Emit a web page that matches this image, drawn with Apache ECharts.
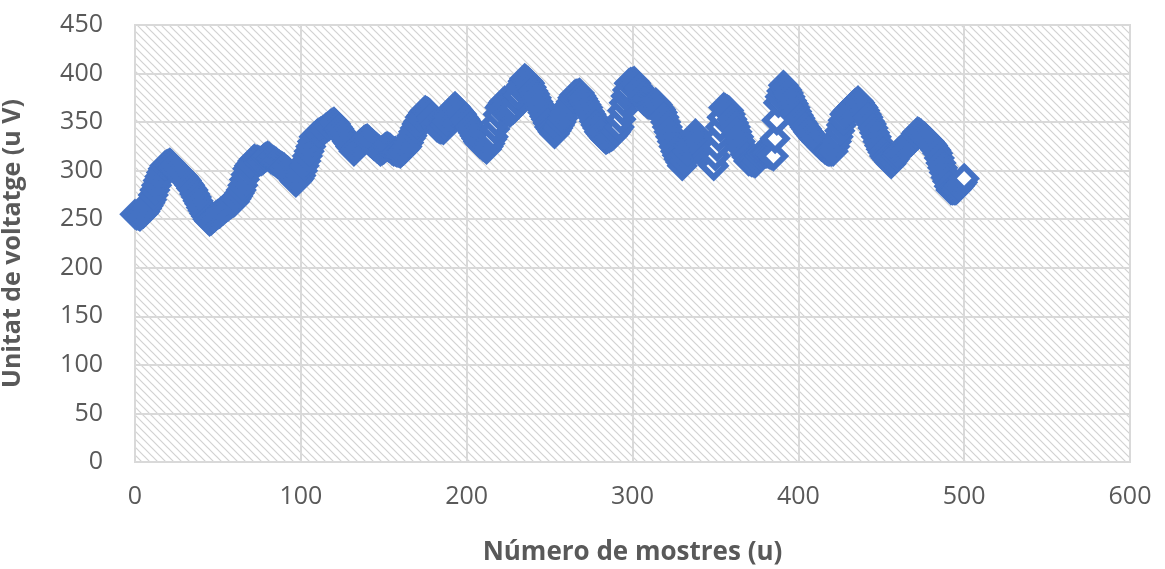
<!DOCTYPE html>
<html>
<head>
<meta charset="utf-8">
<script src="https://cdn.jsdelivr.net/npm/echarts@6/dist/echarts.min.js"></script>
<style>
  html, body { margin: 0; padding: 0; background: #ffffff; }
  #chart { width: 1165px; height: 569px; }
</style>
</head>
<body>
<div id="chart"></div>
<script>
// Voltage readings, one per sample (sample number = index)
const voltage = [
  255,254,254,253,255,256,258,261,264,267,
  270,275,280,285,290,294,298,302,305,306,
  307,308,306,304,302,300,298,297,295,294,
  292,290,287,285,282,280,276,273,269,266,
  262,259,256,253,250,248,249,251,252,254,
  255,256,258,259,261,262,263,265,266,267,
  268,271,274,277,280,285,291,296,302,305,
  307,310,312,311,311,310,310,311,313,314,
  315,314,312,311,310,309,307,306,305,304,
  303,301,300,298,295,293,290,288,290,292,
  295,300,305,310,315,320,325,330,335,336,
  338,339,340,341,342,344,345,346,348,349,
  350,348,345,343,340,338,335,333,330,328,
  325,323,320,322,324,326,328,329,331,332,
  333,331,329,328,326,325,323,322,320,321,
  322,324,325,324,323,321,320,320,319,319,
  318,320,321,323,325,329,333,336,340,344,
  348,351,355,357,360,362,361,360,358,355,
  351,348,345,344,343,343,342,347,351,356,
  360,362,364,366,364,362,360,358,355,353,
  350,348,345,342,339,336,333,330,328,327,
  325,324,322,325,328,332,335,343,350,358,
  365,367,370,372,368,364,360,362,363,365,
  372,378,385,388,392,395,393,392,390,386,
  382,379,375,371,368,364,360,356,353,349,
  345,343,340,338,341,344,347,350,354,358,
  361,365,368,371,375,378,379,379,380,377,
  374,371,368,365,361,358,355,351,347,344,
  340,338,336,334,332,333,334,335,336,338,
  340,343,345,353,362,370,377,383,390,391,
  391,392,390,387,385,381,376,372,371,369,
  368,368,369,369,370,368,365,363,360,355,
  350,345,340,335,330,325,320,316,312,309,
  305,310,315,320,325,328,332,335,338,335,
  333,330,326,322,319,315,312,310,307,305,
  315,325,335,345,355,365,364,363,362,358,
  353,349,345,340,335,330,325,321,317,314,
  310,310,309,309,308,310,313,315,318,318,
  318,318,318,317,316,315,333,352,370,376,
  382,388,385,383,380,376,372,369,365,361,
  357,354,350,348,345,343,340,338,336,334,
  332,330,329,327,325,324,322,321,320,320,
  320,320,325,330,335,341,347,352,358,360,
  362,363,365,367,369,370,372,370,367,365,
  362,358,355,351,348,344,339,335,330,326,
  322,319,315,313,311,309,307,310,312,315,
  318,320,321,323,324,326,327,329,330,332,
  335,338,340,339,338,336,335,333,331,330,
  328,326,323,321,318,313,308,303,298,293,
  289,284,280,280,280,280,282,284,286,288,
  292
];

const xTitle = 'Número de mostres (u)';
const yTitle = 'Unitat de voltatge (u V)';

// Points: [sample number, voltage]
const points = voltage.map((v, i) => [i, v]);

// Diagonal hatch tile for the plot background
function hatchPattern() {
  const s = 8;
  const c = document.createElement('canvas');
  c.width = s; c.height = s;
  const g = c.getContext('2d');
  g.fillStyle = '#ffffff';
  g.fillRect(0, 0, s, s);
  g.strokeStyle = '#d2d2d2';
  g.lineWidth = 1.2;
  g.beginPath();
  g.moveTo(-1, -1); g.lineTo(s + 1, s + 1);
  g.moveTo(-1, s - 1); g.lineTo(1, s + 1);
  g.moveTo(s - 1, -1); g.lineTo(s + 1, 1);
  g.stroke();
  return { image: c, repeat: 'repeat' };
}

const font = '"Open Sans", "Liberation Sans", sans-serif';
const gridColor = '#d9d9d9';

const chart = echarts.init(document.getElementById('chart'), null, { renderer: 'canvas' });
chart.setOption({
  animation: false,
  backgroundColor: '#ffffff',
  grid: {
    left: 135, right: 35, top: 25, bottom: 107,
    containLabel: false,
    outerBoundsMode: 'none',
    show: true,
    backgroundColor: hatchPattern(),
    borderColor: gridColor,
    borderWidth: 2
  },
  xAxis: {
    type: 'value',
    min: 0, max: 600, interval: 100,
    name: xTitle,
    nameLocation: 'middle',
    nameGap: 78,
    nameTextStyle: { fontFamily: font, fontSize: 26, fontWeight: 'bold', color: '#595959' },
    axisLine: { show: true, lineStyle: { color: gridColor, width: 2 } },
    axisTick: { show: false },
    axisLabel: { margin: 22, fontFamily: font, fontSize: 25, color: '#595959' },
    splitLine: { show: true, lineStyle: { color: gridColor, width: 2 } }
  },
  yAxis: {
    type: 'value',
    min: 0, max: 450, interval: 50,
    name: yTitle,
    nameLocation: 'middle',
    nameGap: 110,
    nameTextStyle: { fontFamily: font, fontSize: 25, fontWeight: 'bold', color: '#595959' },
    axisLine: { show: true, lineStyle: { color: gridColor, width: 2 } },
    axisTick: { show: false },
    axisLabel: { margin: 32, fontFamily: font, fontSize: 25, color: '#595959' },
    splitLine: { show: true, lineStyle: { color: gridColor, width: 2 } }
  },
  series: [{
    type: 'scatter',
    data: points,
    symbol: 'diamond',
    symbolSize: 23,
    itemStyle: { color: '#ffffff', borderColor: '#4472c4', borderWidth: 6, opacity: 1 }
  }]
});
</script>
</body>
</html>
